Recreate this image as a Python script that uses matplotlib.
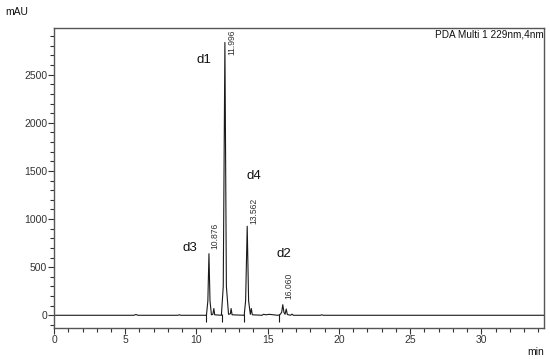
import matplotlib
matplotlib.use("Agg")
import matplotlib.pyplot as plt
from matplotlib.ticker import MultipleLocator

plt.rcParams['font.family'] = ['Liberation Sans', 'DejaVu Sans']

# chromatogram trace (min, mAU)
time = [0.0, 5.6, 5.75, 5.9, 8.7, 8.8, 8.9,
        10.70, 10.80, 10.876, 10.95, 11.05, 11.15, 11.22, 11.28,
        11.75, 11.88, 11.996, 12.10, 12.25, 12.38, 12.43, 12.50,
        13.35, 13.45, 13.562, 13.66, 13.78, 13.85, 13.92,
        14.6, 14.7, 14.9, 15.1, 15.7, 15.85, 15.98, 16.06, 16.14, 16.22, 16.30, 16.38,
        16.6, 16.7, 16.8, 18.7, 18.8, 18.9, 34.4]
signal = [0, 0, 8, 0, 0, 5, 0,
          0, 150, 640, 150, 5, 10, 70, 5,
          0, 300, 2835, 300, 10, 15, 70, 5,
          0, 150, 925, 150, 10, 70, 5,
          0, 10, 5, 10, 0, 5, 30, 110, 30, 10, 65, 8,
          0, 12, 0, 0, 5, 0, 0]

# integration start markers
marker_times = [10.70, 11.80, 13.35, 15.78]

# peak retention time labels
rt_labels = ["10.876", "11.996", "13.562", "16.060"]
rt_x = [11.3, 12.5, 14.05, 16.5]
rt_y = [690, 2700, 950, 170]

# compound labels
cmp_names = ["d1", "d3", "d4", "d2"]
cmp_x = [10.55, 9.57, 14.05, 16.15]
cmp_y = [2650, 700, 1450, 640]

fig = plt.figure(figsize=(5.5, 3.59), dpi=100)
ax = fig.add_axes([0.0982, 0.0864, 0.891, 0.8356])

ax.plot(time, signal, color='#1a1a1a', linewidth=0.8)
ax.vlines(marker_times, -75, 15, color='#1a1a1a', linewidth=0.8)

for lab, x, y in zip(rt_labels, rt_x, rt_y):
    ax.text(x, y, lab, rotation=90, ha='center', va='bottom', fontsize=6.2, color='#333333')

for name, x, y in zip(cmp_names, cmp_x, cmp_y):
    ax.text(x, y, name, ha='center', va='center', fontsize=9.5, color='#111111')

ax.set_xlim(0, 34.4)
ax.set_ylim(-132, 2985)
ax.xaxis.set_major_locator(MultipleLocator(5))
ax.xaxis.set_minor_locator(MultipleLocator(1))
ax.yaxis.set_major_locator(MultipleLocator(500))
ax.yaxis.set_minor_locator(MultipleLocator(100))
ax.tick_params(which='major', length=4, width=0.8, labelsize=7.5, colors='#333333', pad=1)
ax.tick_params(which='minor', length=3, width=0.8, colors='#333333')

for s in ax.spines.values():
    s.set_color('#555555')
    s.set_linewidth(1.0)

ax.text(0.999, 0.995, "PDA Multi 1 229nm,4nm", transform=ax.transAxes,
        ha='right', va='top', fontsize=7.2, color='#111111')
fig.text(5 / 550, 1 - 12 / 359, "mAU", ha='left', va='center', fontsize=7.5, color='#111111')
fig.text(544 / 550, 1 - 352 / 359, "min", ha='right', va='center', fontsize=7.5, color='#111111')

fig.savefig("out.png", dpi=100)
